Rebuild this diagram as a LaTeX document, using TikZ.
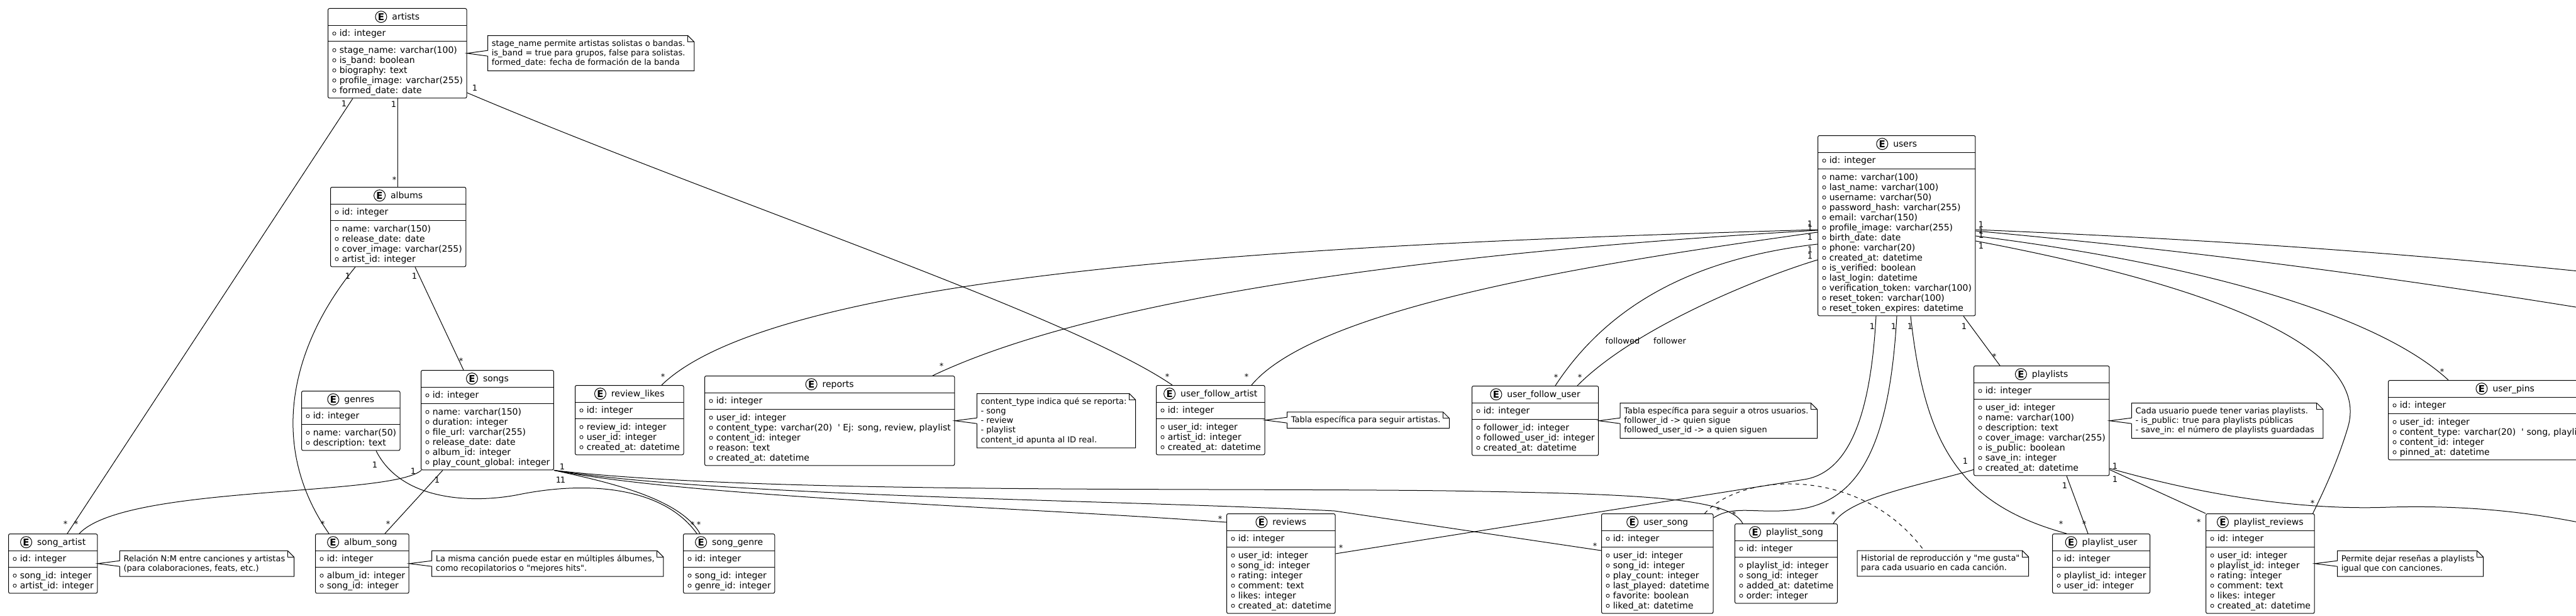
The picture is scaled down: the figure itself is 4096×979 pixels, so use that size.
\documentclass[tikz,border=0pt]{standalone}
\usepackage{fontspec}
\newfontfamily\dvs{DejaVu Sans}
\usetikzlibrary{calc}
\renewcommand{\arraystretch}{0}
\setlength{\arrayrulewidth}{1pt}
\newcommand\Ecirc{\tikz[baseline=0pt]\node[circle,draw,line width=1pt,fill=white,inner sep=0pt,minimum size=18pt,anchor=center,font=\dvs\bfseries\fontsize{15}{15}\selectfont] at (0pt,5pt) {E};}
\newcommand\adot{\tikz[baseline=0pt]{\draw[line width=0.8pt] (2.7pt,4.4pt) circle[radius=2.6pt];\path (0pt,0pt) (11pt,0pt);}}
\newcommand\fa[1]{\rule[-5pt]{0pt}{22.7pt}\adot#1}
\newcommand\ma[1]{\rule[-5pt]{0pt}{16pt}\adot#1}
\newcommand\la[1]{\rule[-7.7pt]{0pt}{18.7pt}\adot#1}
\newcommand\entity[5]{\node[entity] (#1) at (#2,#3) {\begin{tabular}{@{\hspace{7pt}}l@{\hspace{6pt}}}\multicolumn{1}{@{\hspace{6pt}}c@{\hspace{6pt}}}{\rule[-8.3pt]{0pt}{26.5pt}\Ecirc\hspace{8pt}#4}\\\hline\rule[-7.8pt]{0pt}{24.5pt}\adot id: integer\\\hline #5\end{tabular}};}
\newcommand\ns{\rule[-3.7pt]{0pt}{15.2pt}}
\newcommand\mknote[3]{\node[notestyle,#2] (#1) {\begin{tabular}{@{}l@{\hspace{8pt}}}#3\end{tabular}};\draw[line width=1pt] (#1.north west) -- ([xshift=-10pt]#1.north east) -- ([yshift=-10pt]#1.north east) -- (#1.south east) -- (#1.south west) -- cycle;\draw[line width=1pt] ([xshift=-10pt]#1.north east) |- ([yshift=-10pt]#1.north east);}
\newcommand\notelink[2]{\fill[white] (#1.east) -- ([xshift=1pt,yshift=4.5pt]#2.west) -- ([xshift=1pt,yshift=-4.5pt]#2.west) -- cycle;\draw[line width=1pt] ([yshift=4.5pt]#2.west) -- (#1.east) -- ([yshift=-4.5pt]#2.west);}
\newcommand\card[4]{\node[card] (#1) at (#2,#3) {#4};}
\newcommand\cardS[3]{\node[card,yshift=-2pt] (#1) at (#2,#3) {*};}
\tikzset{
  entity/.style={draw,fill=white,rounded corners=2.5pt,inner sep=0pt,anchor=north west,line width=1pt,font=\dvs\fontsize{14}{16}\selectfont},
  notestyle/.style={fill=white,inner xsep=6pt,inner ysep=5pt,font=\dvs\fontsize{13}{15.2}\selectfont},
  card/.style={font=\dvs\fontsize{13}{13}\selectfont,inner sep=0pt},
  conn/.style={line width=1pt},
}
\begin{document}
\begin{tikzpicture}[x=1pt,y=-1pt]
\fill[white] (0,0) rectangle (4096,979);
\useasboundingbox (0,0) rectangle (4096,979);

% ---------------- entities
\entity{artists}{521}{13}{artists}{\fa{stage\_name: varchar(100)}\\ \ma{is\_band: boolean}\\ \ma{biography: text}\\ \ma{profile\_image: varchar(255)}\\ \la{formed\_date: date}}
\entity{albums}{525}{297}{albums}{\fa{name: varchar(150)}\\ \ma{release\_date: date}\\ \ma{cover\_image: varchar(255)}\\ \la{artist\_id: integer}}
\entity{songs}{669}{588}{songs}{\fa{name: varchar(150)}\\ \ma{duration: integer}\\ \ma{file\_url: varchar(255)}\\ \ma{release\_date: date}\\ \ma{album\_id: integer}\\ \la{play\_count\_global: integer}}
\entity{genres}{479}{621}{genres}{\fa{name: varchar(50)}\\ \la{description: text}}
\entity{review_likes}{914}{612}{review\_likes}{\fa{review\_id: integer}\\ \ma{user\_id: integer}\\ \la{created\_at: datetime}}
\entity{reports}{1120}{597}{reports}{\fa{user\_id: integer}\\ \ma{content\_type: varchar(20)\ \ ' Ej: song, review, playlist}\\ \ma{content\_id: integer}\\ \ma{reason: text}\\ \la{created\_at: datetime}}
\entity{ufa}{1838}{612}{user\_follow\_artist}{\fa{user\_id: integer}\\ \ma{artist\_id: integer}\\ \la{created\_at: datetime}}
\entity{users}{2890}{215}{users}{\fa{name: varchar(100)}\\ \ma{last\_name: varchar(100)}\\ \ma{username: varchar(50)}\\ \ma{password\_hash: varchar(255)}\\ \ma{email: varchar(150)}\\ \ma{profile\_image: varchar(255)}\\ \ma{birth\_date: date}\\ \ma{phone: varchar(20)}\\ \ma{created\_at: datetime}\\ \ma{is\_verified: boolean}\\ \ma{last\_login: datetime}\\ \ma{verification\_token: varchar(100)}\\ \ma{reset\_token: varchar(100)}\\ \la{reset\_token\_expires: datetime}}
\entity{ufu}{2340}{613}{user\_follow\_user}{\fa{follower\_id: integer}\\ \ma{followed\_user\_id: integer}\\ \la{created\_at: datetime}}
\entity{playlists}{3138}{581}{playlists}{\fa{user\_id: integer}\\ \ma{name: varchar(100)}\\ \ma{description: text}\\ \ma{cover\_image: varchar(255)}\\ \ma{is\_public: boolean}\\ \ma{save\_in: integer}\\ \la{created\_at: datetime}}
\entity{user_pins}{3797}{604}{user\_pins}{\fa{user\_id: integer}\\ \ma{content\_type: varchar(20)\ \ ' song, playlist, album}\\ \ma{content\_id: integer}\\ \la{pinned\_at: datetime}}
\entity{song_artist}{13}{848}{song\_artist}{\fa{song\_id: integer}\\ \la{artist\_id: integer}}
\entity{album_song}{501}{848}{album\_song}{\fa{album\_id: integer}\\ \la{song\_id: integer}}
\entity{song_genre}{1086}{848}{song\_genre}{\fa{song\_id: integer}\\ \la{genre\_id: integer}}
\entity{reviews}{1950}{816}{reviews}{\fa{user\_id: integer}\\ \ma{song\_id: integer}\\ \ma{rating: integer}\\ \ma{comment: text}\\ \ma{likes: integer}\\ \la{created\_at: datetime}}
\entity{user_song}{2546}{816}{user\_song}{\fa{user\_id: integer}\\ \ma{song\_id: integer}\\ \ma{play\_count: integer}\\ \ma{last\_played: datetime}\\ \ma{favorite: boolean}\\ \la{liked\_at: datetime}}
\entity{playlist_song}{2758}{832}{playlist\_song}{\fa{playlist\_id: integer}\\ \ma{song\_id: integer}\\ \ma{added\_at: datetime}\\ \la{order: integer}}
\entity{playlist_user}{3263}{848}{playlist\_user}{\fa{playlist\_id: integer}\\ \la{user\_id: integer}}
\entity{playlist_reviews}{3507}{816}{playlist\_reviews}{\fa{user\_id: integer}\\ \ma{playlist\_id: integer}\\ \ma{rating: integer}\\ \ma{comment: text}\\ \ma{likes: integer}\\ \la{created\_at: datetime}}

% ---------------- off-canvas ends
\coordinate (offA) at (4120,433);
\coordinate (offB) at (4120,492);
\coordinate (offC) at (4120,834);

% ---------------- connectors
% artists
\draw[conn] ([xshift=111pt]artists.south west) -- ([xshift=107pt]albums.north west);
\draw[conn] ([xshift=40pt]artists.south west) -- ([xshift=94pt]song_artist.north west);
\draw[conn] ([yshift=9pt]artists.south east) .. controls (1150,320) and (1700,500) .. ([xshift=26pt]ufa.north west);
% albums
\draw[conn] ([xshift=135pt]albums.south west) -- ([xshift=68pt]songs.north west);
\draw[conn] ([xshift=40pt]albums.south west) .. controls (470,540) and (420,700) .. ([xshift=22pt]album_song.north west);
% songs
\draw[conn] ([xshift=1pt]songs.south west) .. controls (620,790) and (200,770) .. ([xshift=113pt]song_artist.north west);
\draw[conn] ([xshift=35pt]songs.south west) -- ([xshift=111pt]album_song.north west);
\draw[conn] (songs.south east) .. controls (960,765) and (1080,790) .. ([xshift=27pt]song_genre.north west);
\draw[conn] ([xshift=119pt]genres.south west) .. controls (640,800) and (760,800) .. (830,785) .. controls (950,762) and (1060,780) .. ([xshift=22pt]song_genre.north west);
\draw[conn] (songs.south east) .. controls (1100,790) and (1600,805) .. ([yshift=-14pt]reviews.north west);
\draw[conn] (songs.south east) .. controls (1150,790) and (1800,795) .. (2122,812) -- ([yshift=-59pt]user_song.north west);
\draw[conn] (songs.south east) .. controls (1200,785) and (1900,775) .. (2300,780) .. controls (2600,785) and (2750,790) .. ([xshift=13pt]playlist_song.north west);
% users left
\draw[conn] ([yshift=-150pt]users.north west) .. controls (2200,385) and (1250,420) .. ([xshift=138pt]review_likes.north west);
\draw[conn] ([yshift=-151pt]users.north west) .. controls (2300,400) and (1750,470) .. ([xshift=363pt]reports.north west);
\draw[conn] ([yshift=-154pt]users.north west) .. controls (2600,410) and (2100,480) .. ([xshift=152pt]ufa.north west);
\draw[conn] ([yshift=-173pt]users.north west) .. controls (2700,410) and (2560,480) .. ([xshift=133pt]ufu.north west);
\draw[conn] ([yshift=-198pt]users.north west) .. controls (2800,440) and (2600,520) .. ([xshift=168pt]ufu.north west);
% users right
\draw[conn] ([yshift=-150pt]users.north east) .. controls (3500,380) and (3800,400) .. (offA);
\draw[conn] ([yshift=-152pt]users.north east) .. controls (3500,400) and (3800,440) .. (offB);
\draw[conn] ([yshift=-160pt]users.north east) .. controls (3500,420) and (3780,500) .. ([xshift=96pt]user_pins.north west);
\draw[conn] ([yshift=-168pt]users.north east) .. controls (3550,460) and (3770,560) .. (3733,680) .. controls (3715,740) and (3690,790) .. ([xshift=-3pt]playlist_reviews.north east);
% users bottom
\draw[conn] ([xshift=93pt]users.south west) .. controls (2975,650) and (2944,750) .. (2869,762) -- ([yshift=-64pt]reviews.north east);
\draw[conn] ([xshift=126pt]users.south west) .. controls (3005,700) and (2960,790) .. (2869,808) .. controls (2800,820) and (2760,800) .. ([yshift=-7pt]user_song.north east);
\draw[conn] ([xshift=148pt]users.south west) .. controls (3060,700) and (3110,800) .. ([xshift=23pt]playlist_user.north west);
\draw[conn] ([xshift=232pt]users.south west) -- ([xshift=42pt]playlists.north west);
% playlists
\draw[conn] ([yshift=10pt]playlists.south west) .. controls (3060,770) and (2940,790) .. ([xshift=-7pt]playlist_song.north east);
\draw[conn] ([xshift=148pt]playlists.south west) -- ([xshift=57pt]playlist_user.north west);
\draw[conn] ([yshift=10pt]playlists.south east) -- (playlist_reviews.north west);
\draw[conn] ([yshift=12pt]playlists.south east) .. controls (3550,800) and (3700,810) .. (3800,806) .. controls (3950,802) and (4050,820) .. (offC);

% ---------------- notes
\mknote{nArtists}{anchor=west,at={([xshift=33pt]artists.east)}}{\ns stage\_name permite artistas solistas o bandas.\\ \ns is\_band = true para grupos, false para solistas.\\ \ns formed\_date: fecha de formación de la banda}
\notelink{artists}{nArtists}
\mknote{nReports}{anchor=west,at={([xshift=35pt]reports.east)}}{\ns content\_type indica qué se reporta:\\ \ns - song\\ \ns - review\\ \ns - playlist\\ \ns content\_id apunta al ID real.}
\notelink{reports}{nReports}
\mknote{nUfa}{anchor=west,at={([xshift=35pt]ufa.east)}}{\ns Tabla específica para seguir artistas.}
\notelink{ufa}{nUfa}
\mknote{nUfu}{anchor=west,at={([xshift=34pt]ufu.east)}}{\ns Tabla específica para seguir a otros usuarios.\\ \ns follower\_id -> quien sigue\\ \ns followed\_user\_id -> a quien siguen}
\notelink{ufu}{nUfu}
\mknote{nPlaylists}{anchor=west,at={([xshift=35pt]playlists.east)}}{\ns Cada usuario puede tener varias playlists.\\ \ns - is\_public: true para playlists públicas\\ \ns - save\_in: el número de playlists guardadas}
\notelink{playlists}{nPlaylists}
\mknote{nSongArtist}{anchor=west,at={([xshift=35pt]song_artist.east)}}{\ns Relación N:M entre canciones y artistas\\ \ns (para colaboraciones, feats, etc.)}
\notelink{song_artist}{nSongArtist}
\mknote{nAlbumSong}{anchor=west,at={([xshift=36pt]album_song.east)}}{\ns La misma canción puede estar en múltiples álbumes,\\ \ns como recopilatorios o "mejores hits".}
\notelink{album_song}{nAlbumSong}
\mknote{nPlRev}{anchor=west,at={([xshift=36pt]playlist_reviews.east)}}{\ns Permite dejar reseñas a playlists\\ \ns igual que con canciones.}
\notelink{playlist_reviews}{nPlRev}
\mknote{hist}{anchor=north west,at={(2953,875)}}{\ns Historial de reproducción y "me gusta"\\ \ns para cada usuario en cada canción.}
\draw[conn,dashed,dash pattern=on 6pt off 6pt] ([xshift=-14pt]user_song.north east) .. controls (2770,750) and (2960,740) .. ([xshift=-30pt]hist.north);

% ---------------- labels
\card{k1}{547}{165}{1}
\card{k2}{626}{166}{1}
\cardS{k3}{627}{284}
\card{k4}{755}{140}{1}
\cardS{k5}{104}{831}
\cardS{k6}{121}{831}
\card{k7}{553}{439}{1}
\card{k8}{659}{439}{1}
\cardS{k9}{733}{572}
\cardS{k10}{513}{831}
\cardS{k11}{617}{831}
\card{k12}{657}{749}{1}
\card{k13}{695}{763}{1}
\card{k14}{894}{742}{1}
\card{k15}{888}{763}{1}
\card{k16}{895}{763}{1}
\card{k17}{596}{739}{1}
\cardS{k18}{1101}{832}
\cardS{k19}{1111}{832}
\cardS{k20}{1054}{597}
\cardS{k21}{1497}{580}
\cardS{k22}{1856}{597}
\cardS{k23}{1982}{597}
\cardS{k24}{2474}{598}
\cardS{k25}{2512}{598}
\card{lfollowed}{2580}{542}{followed}
\card{lfollower}{2655}{542}{follower}
\card{k26}{2878}{356}{1}
\card{k27}{2878}{362}{1}
\card{k28}{2878}{377}{1}
\card{k29}{2878}{397}{1}
\card{k30}{2878}{407}{1}
\card{k31}{3150}{357}{1}
\card{k32}{3150}{367}{1}
\card{k33}{3150}{374}{1}
\card{k34}{3150}{391}{1}
\card{k35}{2977}{519}{1}
\card{k36}{3011}{519}{1}
\card{k37}{3037}{519}{1}
\card{k38}{3123}{519}{1}
\cardS{k39}{3171}{565}
\card{k40}{3125}{733}{1}
\card{k41}{3283}{772}{1}
\card{k42}{3363}{741}{1}
\card{k43}{3363}{762}{1}
\cardS{k44}{3277}{831}
\cardS{k45}{3314}{831}
\cardS{k46}{3496}{828}
\cardS{k47}{3677}{798}
\cardS{k48}{3883}{589}
\cardS{k49}{2132}{869}
\cardS{k50}{1940}{823}
\cardS{k51}{2536}{866}
\cardS{k52}{2732}{809}
\cardS{k53}{2757}{816}
\cardS{k54}{2915}{816}
\end{tikzpicture}
\end{document}
